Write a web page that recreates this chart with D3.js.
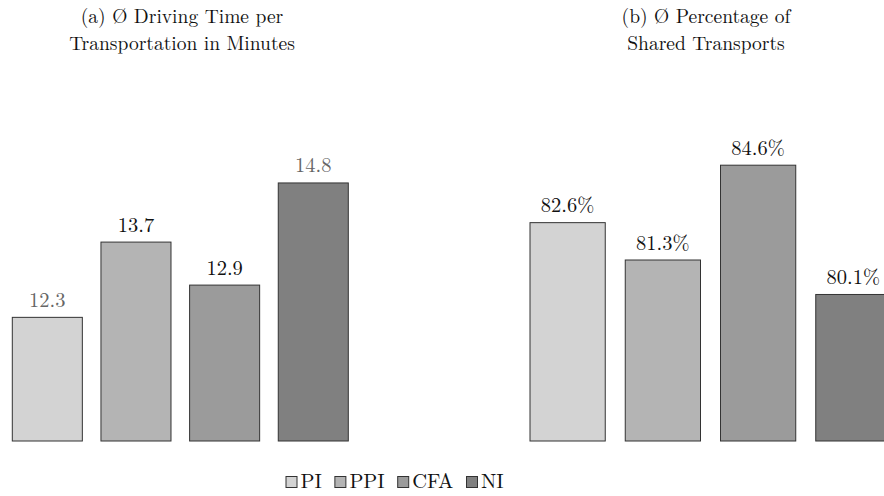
<!DOCTYPE html>
<html>
<head>
<meta charset="utf-8">
<script src="https://cdn.jsdelivr.net/npm/d3@7"></script>
<style>
  body { margin: 0; background: #fff; }
</style>
</head>
<body>
<div id="chart"></div>
<script>
let w = 884;
let h = 496;
let font = '"Latin Modern Roman", "CMU Serif", "Liberation Serif", serif';

// data
let methods = ["PI", "PPI", "CFA", "NI"];
let drivingTime = [12.3, 13.7, 12.9, 14.8];
let sharedPct = [82.6, 81.3, 84.6, 80.1];
let drivingLabels = ["12.3", "13.7", "12.9", "14.8"];
let sharedLabels = ["82.6%", "81.3%", "84.6%", "80.1%"];

let fills = ["#d3d3d3", "#b4b4b4", "#9b9b9b", "#808080"];

let svg = d3.select("#chart")
  .append("svg")
    .attr("width", w)
    .attr("height", h)
    .style("display", "block");

let baseY = 441;

function drawPanel(opts) {
  let x = d3.scaleBand()
    .domain(methods)
    .range(opts.xRange)
    .paddingInner(0.21)
    .paddingOuter(0);

  let y = d3.scaleLinear()
    .domain(opts.yDomain)
    .range([baseY, opts.yTop]);

  let g = svg.append("g").attr("class", "panel");

  let rows = methods.map((m, i) => ({m: m, v: opts.values[i], label: opts.labels[i], i: i}));

  g.selectAll("rect")
    .data(rows)
    .enter().append("rect")
      .attr("x", d => x(d.m))
      .attr("y", d => y(d.v))
      .attr("width", x.bandwidth())
      .attr("height", d => baseY - y(d.v))
      .attr("fill", d => fills[d.i])
      .attr("stroke", "#333")
      .attr("stroke-width", 1);

  g.selectAll("text.val")
    .data(rows)
    .enter().append("text")
      .attr("class", "val")
      .attr("x", d => x(d.m) + x.bandwidth() / 2)
      .attr("y", d => y(d.v) - 10.5)
      .attr("text-anchor", "middle")
      .style("font-family", font)
      .style("font-size", "20.5px")
      .attr("fill", d => opts.labelColors[d.i])
      .text(d => d.label);

  // two-line title, one text per line
  g.selectAll("text.title")
    .data(opts.title)
    .enter().append("text")
      .attr("class", "title")
      .attr("x", opts.titleX)
      .attr("y", (d, i) => 23 + i * 27)
      .attr("text-anchor", "middle")
      .style("font-family", font)
      .style("font-size", "19.5px")
      .attr("fill", "#111")
      .text(d => d);
}

drawPanel({
  xRange: [12.3, 348.3],
  yDomain: [10, 15],
  yTop: baseY - 5 * 53.76,
  values: drivingTime,
  labels: drivingLabels,
  labelColors: ["#666", "#111", "#111", "#666"],
  titleX: 182,
  title: ["(a) Ø Driving Time per", "Transportation in Minutes"]
});

drawPanel({
  xRange: [530, 891],
  yDomain: [75, 85],
  yTop: baseY - 10 * 28.73,
  values: sharedPct,
  labels: sharedLabels,
  labelColors: ["#111", "#111", "#111", "#111"],
  titleX: 706,
  title: ["(b) Ø Percentage of", "Shared Transports"]
});

// legend
let legend = svg.append("g").attr("class", "legend");
let items = legend.selectAll("g")
  .data(methods)
  .enter().append("g");

items.append("rect")
  .attr("width", 11)
  .attr("height", 11)
  .attr("y", 476.5)
  .attr("fill", (d, i) => fills[i])
  .attr("stroke", "#333");

items.append("text")
  .attr("x", 14.5)
  .attr("y", 487.5)
  .style("font-family", font)
  .style("font-size", "20.5px")
  .attr("fill", "#111")
  .text(d => d);

// lay out legend items side by side
let xPos = 0;
let offsets = [];
items.each(function() {
  offsets.push(xPos);
  xPos += this.getBBox().width + 13;
});
let startX = 286;
items.attr("transform", (d, i) => `translate(${startX + offsets[i]},0)`);
</script>
</body>
</html>
